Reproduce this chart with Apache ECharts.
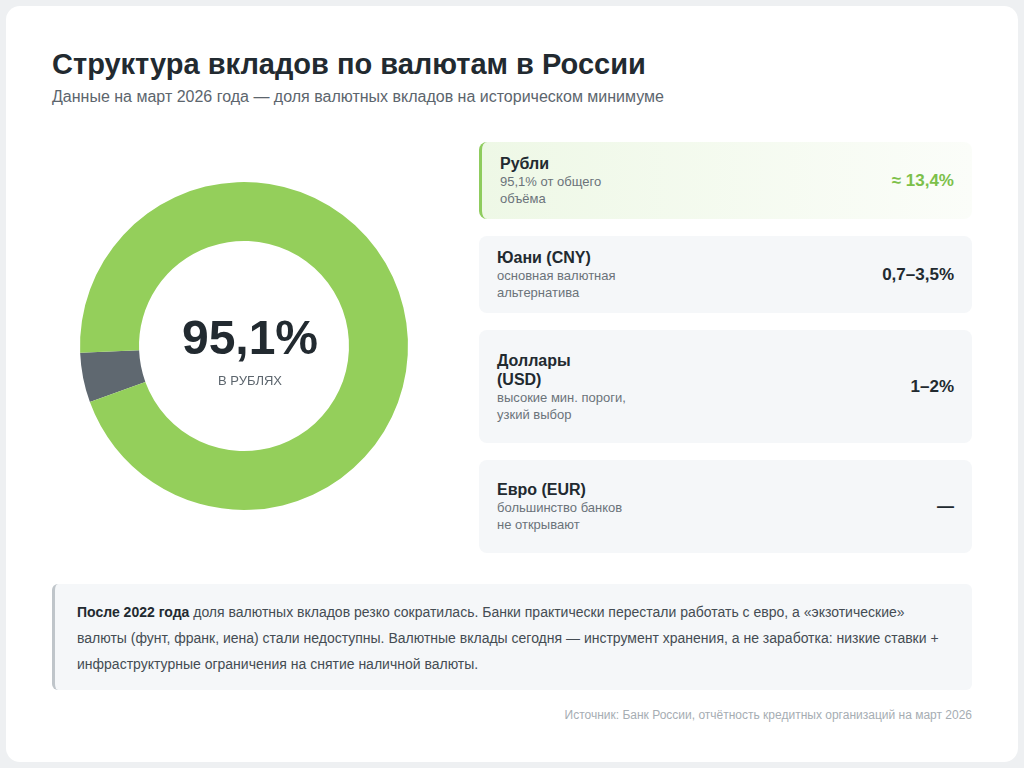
<!DOCTYPE html>
<html><head><meta charset="utf-8">
<script src="https://cdn.jsdelivr.net/npm/echarts@6/dist/echarts.min.js"></script>
<style>
html,body{margin:0;padding:0;background:#eef0f2;font-family:"Liberation Sans",Arial,sans-serif;}
#page{position:absolute;left:6px;top:6px;width:1012px;height:756px;background:#fff;border-radius:14px;}
h1{position:absolute;left:46px;top:42px;margin:0;font-size:29px;font-weight:700;color:#222a30;}
.sub{position:absolute;left:46px;top:82px;font-size:16px;color:#5c656d;}
#chart{position:absolute;left:54px;top:140px;width:380px;height:400px;}
.card{position:absolute;left:473px;width:493px;background:#f5f7f9;border-radius:8px;box-sizing:border-box;padding:0 18px;display:flex;align-items:center;justify-content:space-between;}
.card.hl{background:linear-gradient(90deg,#eef8e6,#fbfdf9);border-left:3px solid #8fcc5e;}
.nm{font-size:16px;font-weight:700;color:#222a30;line-height:19px;width:120px;}
.ds{font-size:13px;color:#6b737a;line-height:17px;width:130px;}
.val{font-size:17px;font-weight:700;color:#222a30;}
.hl .val{color:#7cc04a;}
.note{position:absolute;left:46px;top:578px;width:920px;height:106px;box-sizing:border-box;background:#f5f7f9;border-left:3px solid #bfc5ca;border-radius:6px;padding:15px 22px;font-size:14px;line-height:26px;color:#444c53;}
.src{position:absolute;right:46px;top:702px;font-size:12px;color:#a6adb3;}
</style></head><body>
<div id="page">
<h1>Структура вкладов по валютам в России</h1>
<div class="sub">Данные на март 2026 года — доля валютных вкладов на историческом минимуме</div>
<div id="chart"></div>
<div id="cards"></div>
<div class="note"><b style="color:#222a30">После 2022 года</b> доля валютных вкладов резко сократилась. Банки практически перестали работать с евро, а «экзотические» валюты (фунт, франк, иена) стали недоступны. Валютные вклады сегодня — инструмент хранения, а не заработка: низкие ставки + инфраструктурные ограничения на снятие наличной валюты.</div>
<div class="src">Источник: Банк России, отчётность кредитных организаций на март 2026</div>
</div>
<script>
const sliceNames = ['Валютные вклады', 'Рубли'];
const sliceValues = [4.9, 95.1];
const cardNames = ['Рубли', 'Юани (CNY)', 'Доллары (USD)', 'Евро (EUR)'];
const cardDescs = ['95,1% от общего объёма', 'основная валютная альтернатива', 'высокие мин. пороги, узкий выбор', 'большинство банков не открывают'];
const cardValues = ['≈ 13,4%', '0,7–3,5%', '1–2%', '—'];

const tops=[136,230,324,454], hs=[77,77,113,93];
const cont=document.getElementById('cards');
cardNames.forEach((n,i)=>{
  const d=document.createElement('div');
  d.className='card'+(i===0?' hl':'');
  d.style.top=tops[i]+'px'; d.style.height=hs[i]+'px';
  d.innerHTML='<div><div class="nm">'+n+'</div><div class="ds">'+cardDescs[i]+'</div></div><div class="val">'+cardValues[i]+'</div>';
  cont.appendChild(d);
});
const ch=echarts.init(document.getElementById('chart'));
ch.setOption({
  animation:false,
  title:{text:'95,1%',subtext:'В РУБЛЯХ',left:'center',top:166,itemGap:10,
    textStyle:{fontSize:48,fontWeight:700,color:'#222a30',fontFamily:'Liberation Sans'},
    subtextStyle:{fontSize:13,color:'#5c656d',fontFamily:'Liberation Sans'}},
  series:[{type:'pie',radius:[105,164],center:[184,200],startAngle:200,label:{show:false},
    data:sliceNames.map((n,i)=>({name:n,value:sliceValues[i],itemStyle:{color:i===0?'#5f6870':'#94cf5b'}}))}]
});
</script>
</body></html>
